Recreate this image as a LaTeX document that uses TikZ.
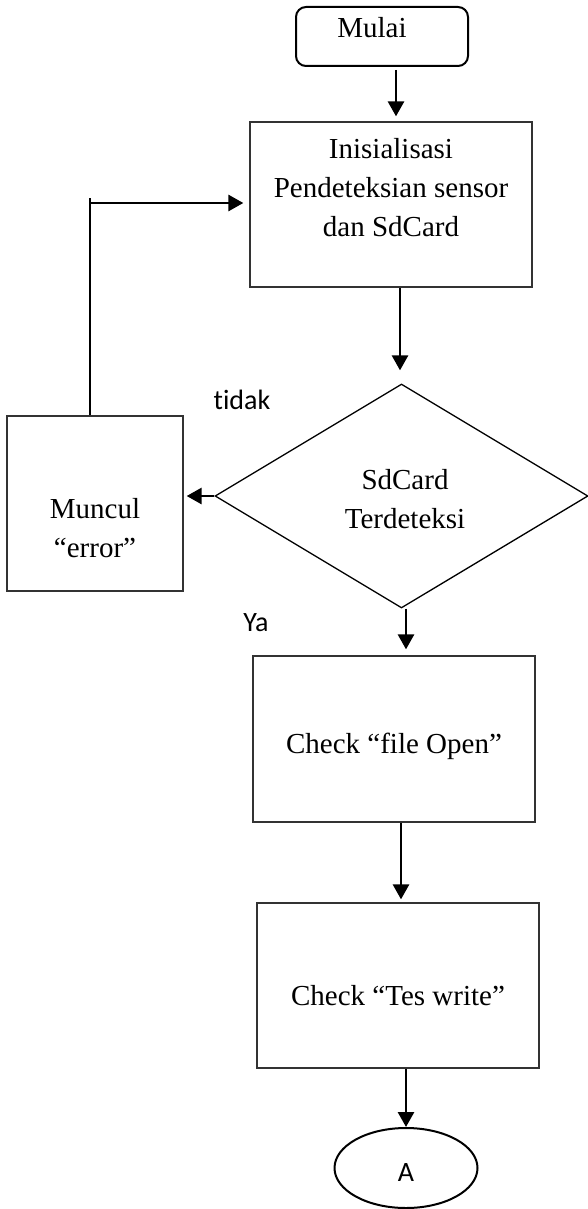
\documentclass[tikz,border=0pt]{standalone}
\usepackage{fontspec}
\setmainfont{Liberation Serif}
\newfontfamily\calfont[Ligatures=NoCommon]{Carlito}
\usetikzlibrary{arrows.meta,shapes.geometric,calc}
\begin{document}
\begin{tikzpicture}[x=1pt,y=-1pt,
  box/.style={draw=black!80, line width=1.3pt, rectangle, inner sep=0pt},
  arr/.style={line width=2.8pt, -{Triangle[length=15pt,width=16pt]}},
  txt/.style={font=\fontsize{29}{39}\selectfont, align=center, inner sep=0pt},
  lab/.style={font=\calfont\fontsize{28}{34}\selectfont, inner sep=0pt}]
\useasboundingbox (0,0) rectangle (588,1209);

% shapes
\node[box, draw=black, line width=2pt, rounded corners=10pt, minimum width=172pt, minimum height=59pt] (start) at (382,36.5) {};
\node[box, minimum width=282pt, minimum height=165pt] (b1) at (391,204.5) {};
\node[draw=black, line width=1.3pt, diamond, inner sep=0pt, minimum width=373pt, minimum height=224pt] (dia) at (401.5,496) {};
\node[box, minimum width=176pt, minimum height=175pt] (err) at (95,503.5) {};
\node[box, minimum width=282pt, minimum height=166pt] (b2) at (394,739) {};
\node[box, minimum width=282pt, minimum height=165pt] (b3) at (398,985.5) {};
\node[draw=black, line width=2pt, ellipse, inner sep=0pt, minimum width=143pt, minimum height=80pt] (A) at (406,1168) {};

% texts
\node[txt] (tstart) at (372,28) {Mulai};
\node[txt] (tb1) at (391,188) {Inisialisasi\\Pendeteksian sensor\\dan SdCard};
\node[txt] (tdia) at (405,499) {SdCard\\Terdeteksi};
\node[txt] (terr) at (95,528) {Muncul\\“error”};
\node[txt] (tb2) at (394,746) {Check “file Open”};
\node[txt] (tb3) at (398,996) {Check “Tes write”};
\node[lab] (tA) at (406,1173) {A};
\node[lab] (ltidak) at (242,400) {tidak};
\node[lab] (lya) at (256,623) {Ya};

% connectors
\draw[arr] ($(start.south)+(14,3)$) -- ($(b1.north)+(5,-5)$);
\draw[arr] ($(b1.south)+(9,0)$) -- ($(dia.north)+(-1.5,-13)$);
\draw[arr, shorten >=3pt] (dia.west) -- (dia.west -| err.east);
\coordinate (ctop) at (90,198);
\coordinate (cturn) at (90,203);
\draw[line width=1.6pt] ($(err.north)+(-5,0)$) -- (ctop);
\draw[arr, shorten >=6pt] (cturn) -- (cturn -| b1.west);
\draw[arr] ($(dia.south)+(4.5,0)$) -- ($(b2.north)+(12,-6)$);
\draw[arr] ($(b2.south)+(7,0)$) -- ($(b3.north)+(3,-3)$);
\draw[arr] ($(b3.south)+(8,0)$) -- (A.north);
\end{tikzpicture}
\end{document}
